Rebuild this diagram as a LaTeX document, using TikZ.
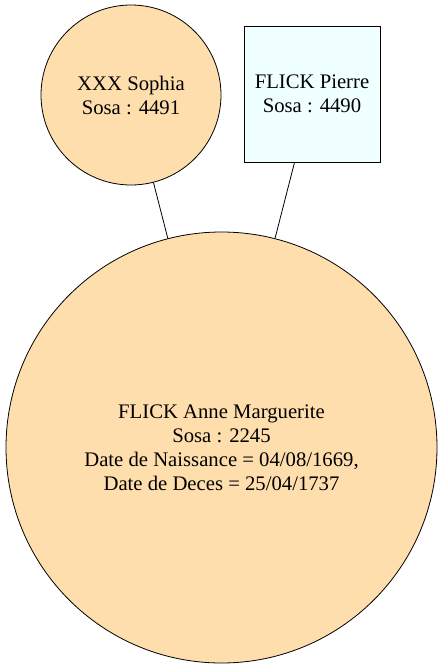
\documentclass[tikz,border=0pt]{standalone}
\usepackage{fontspec}
\setmainfont{Liberation Serif}
\definecolor{navw}{HTML}{FFDEAD}
\definecolor{azur}{HTML}{F0FFFF}
\tikzset{
  person/.style={draw=black, line width=0.8pt, circle, fill=navw, inner sep=0pt, align=center,
    font=\fontsize{20.7}{24}\selectfont},
  personbox/.style={draw=black, line width=0.8pt, rectangle, fill=azur, inner sep=0pt, align=center,
    font=\fontsize{20.7}{24}\selectfont},
  link/.style={draw=black, line width=0.8pt}
}
\begin{document}
\begin{tikzpicture}[x=1pt,y=-1pt]
\useasboundingbox (0,0) rectangle (442,670);
\node[person, minimum size=180pt] (s) at (131,95) {XXX Sophia\\Sosa : 4491};
\node[personbox, minimum width=136pt, minimum height=136pt] (p) at (312,94) {FLICK Pierre\\Sosa : 4490};
\node[person, minimum size=431pt] (a) at (221.5,447.5) {FLICK Anne Marguerite\\Sosa : 2245\\Date de Naissance = 04/08/1669,\\Date de Deces = 25/04/1737};
\draw[link] (s) -- (a);
\draw[link] (p) -- (a);
\end{tikzpicture}
\end{document}
